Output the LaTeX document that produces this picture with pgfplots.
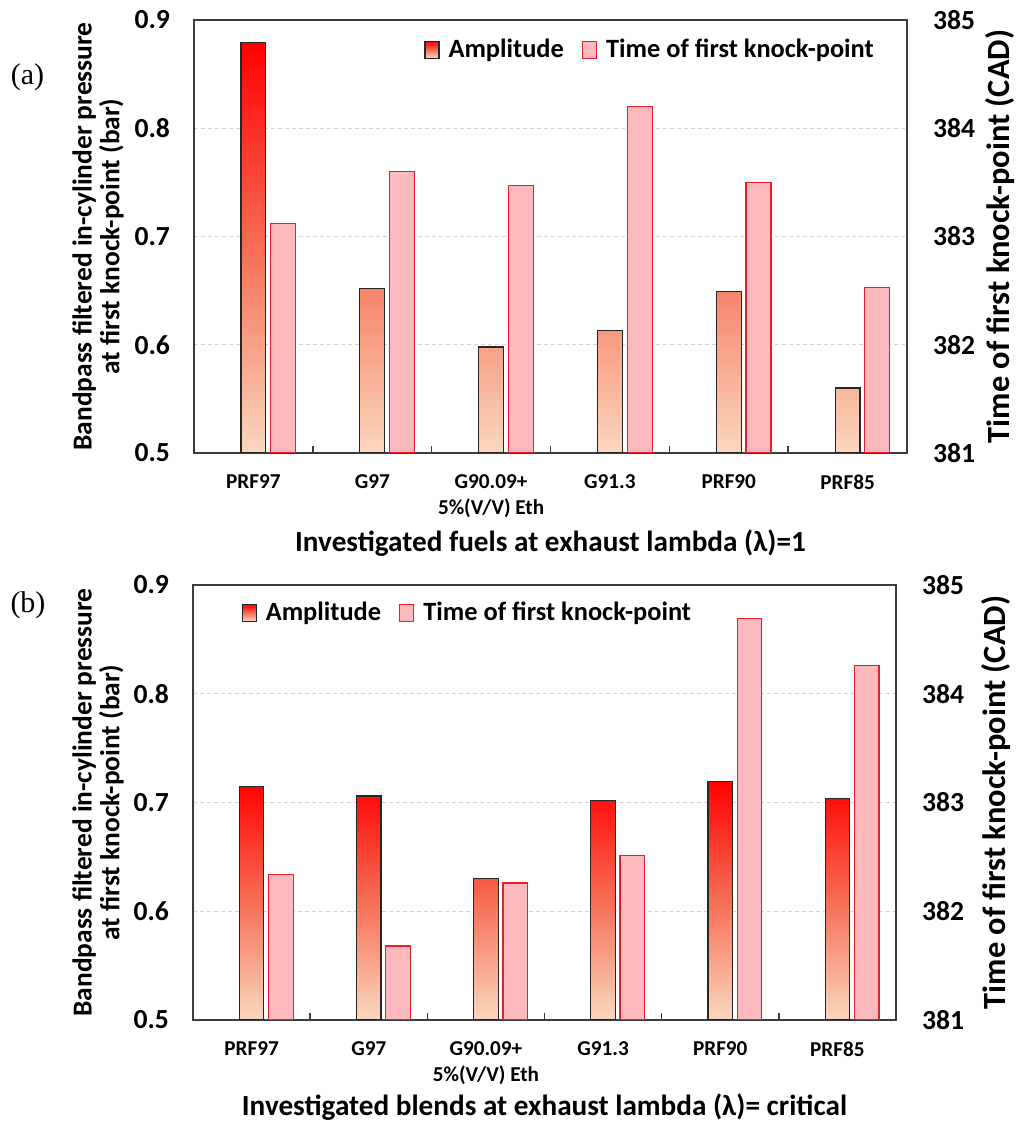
\documentclass[border=0pt]{standalone}
\usepackage{fontspec}
\setmainfont{Carlito}
\newfontfamily\timesf{Liberation Serif}
\usepackage{pgfplots}
\usepackage{pgfplotstable}
\pgfplotsset{compat=1.18}

\definecolor{peach}{RGB}{250,216,190}
\definecolor{salmon}{RGB}{246,110,85}
\definecolor{tpink}{RGB}{253,186,190}
\definecolor{tred}{RGB}{232,30,40}
\definecolor{framec}{RGB}{60,60,60}
\definecolor{gridc}{RGB}{210,210,210}

\pgfplotstableread{
x amp time
0 0.879 383.12
1 0.652 383.60
2 0.598 383.47
3 0.613 384.20
4 0.649 383.50
5 0.560 382.53
}\dataA
\pgfplotstableread{
x amp time
0 0.715 382.34
1 0.706 381.68
2 0.630 382.26
3 0.702 382.51
4 0.719 384.69
5 0.704 384.26
}\dataB

\pgfplotsset{
  ampbar/.style={draw=black!85, line width=0.6pt, top color=red, bottom color=peach, middle color=salmon},
  timebar/.style={draw=tred, line width=0.6pt, fill=tpink},
  baseax/.style={
    scale only axis, xmin=-0.5, xmax=5.5, ybar, bar width=0.21,
    enlargelimits=false,
    /pgf/number format/assume math mode=true,
    major tick length=0pt, minor tick length=3.5pt, tick align=inside,
    tick style={framec, line width=0.7pt},
    axis line style={framec, line width=0.8pt},
    legend style={draw=none, fill=none, legend columns=2,
      font=\bfseries\fontsize{13.2}{15}\selectfont,
      /tikz/every even column/.append style={column sep=7pt}},
    legend cell align=left,
  },
  leftax/.style={baseax,
    y coord trafo/.code={\pgfmathparse{##1-0.5}},
    y coord inv trafo/.code={\pgfmathparse{##1+0.5}},
    ymin=0.5, ymax=0.9,
    ytick={0.5,0.6,0.7,0.8,0.9}, yticklabels={0.5,0.6,0.7,0.8,0.9},
    yticklabel style={font=\bfseries\fontsize{13.8}{15}\selectfont, xshift=-8.5pt},
    ymajorgrids, grid style={gridc, dash pattern=on 2pt off 1.5pt, line width=0.4pt},
    xtick={0,1,2,3,4,5},
    xticklabels={PRF97,G97,{G90.09+\\5\%(V/V) Eth},G91.3,PRF90,PRF85},
    xticklabel style={font=\bfseries\fontsize{10.6}{13}\selectfont, align=center, yshift=-7.5pt},
    minor xtick={0.5,1.5,2.5,3.5,4.5},
    xtick pos=bottom, ytick pos=left,
    ylabel={Bandpass filtered in-cylinder pressure\\at first knock-point (bar)},
    ylabel style={align=center, font=\bfseries\fontsize{13.7}{13.8}\selectfont, anchor=center},
    xlabel style={font=\bfseries\fontsize{14.6}{16}\selectfont, anchor=center},
  },
  rightax/.style={baseax,
    y coord trafo/.code={\pgfmathparse{##1-381}},
    y coord inv trafo/.code={\pgfmathparse{##1+381}},
    ymin=381, ymax=385,
    ytick={381,382,383,384,385}, yticklabels={381,382,383,384,385},
    yticklabel style={font=\bfseries\fontsize{13.8}{15}\selectfont, xshift=9.5pt},
    axis y line*=right, axis x line=none,
    ylabel={Time of first knock-point (CAD)},
    ylabel style={font=\bfseries\fontsize{16.2}{17}\selectfont, anchor=center},
    legend image code/.code={\draw[##1] (0pt,-4.2pt) rectangle (7pt,4.2pt); \path (9.5pt,0pt);},
  },
}

\begin{document}
\begin{tikzpicture}
\useasboundingbox (0,0) rectangle (509pt,564pt);

% ---------------- panel (a)
\begin{axis}[leftax, at={(97pt,337.5pt)}, anchor=south west,
  width=356.5pt, height=216.5pt,
  xlabel={Investigated fuels at exhaust lambda (λ)=1},
  xlabel style={at={(axis description cs:0.5,-0.208)}},
  ylabel style={at={(axis description cs:-0.1346,0.5)}}]
\addplot[ampbar, bar shift=0] table[x=x, y=amp] {\dataA};
\end{axis}
\begin{axis}[rightax, at={(97pt,337.5pt)}, anchor=south west,
  width=356.5pt, height=216.5pt,
  ylabel style={at={(axis description cs:1.130,0.5)}},
  legend style={at={(axis description cs:0.968,0.931)}, anchor=east}]
\addlegendimage{ampbar}
\addlegendentry{Amplitude}
\addplot[timebar, bar shift=0.25] table[x=x, y=time] {\dataA};
\addlegendentry{Time of first knock-point}
\end{axis}

% ---------------- panel (b)
\begin{axis}[leftax, at={(96.5pt,54pt)}, anchor=south west,
  width=351.5pt, height=217.5pt,
  xlabel={Investigated blends at exhaust lambda (λ)= critical},
  xlabel style={at={(axis description cs:0.5,-0.2)}},
  ylabel style={at={(axis description cs:-0.1351,0.5)}}]
\addplot[ampbar, bar shift=0] table[x=x, y=amp] {\dataB};
\end{axis}
\begin{axis}[rightax, at={(96.5pt,54pt)}, anchor=south west,
  width=351.5pt, height=217.5pt,
  ylabel style={at={(axis description cs:1.142,0.5)}},
  legend style={at={(axis description cs:0.06,0.936)}, anchor=west}]
\addlegendimage{ampbar}
\addlegendentry{Amplitude}
\addplot[timebar, bar shift=0.25] table[x=x, y=time] {\dataB};
\addlegendentry{Time of first knock-point}
\end{axis}

\node at (13.75pt,525.5pt) {\timesf\fontsize{15}{15}\selectfont (a)};
\node at (14pt,261.5pt) {\timesf\fontsize{15}{15}\selectfont (b)};
\end{tikzpicture}
\end{document}
